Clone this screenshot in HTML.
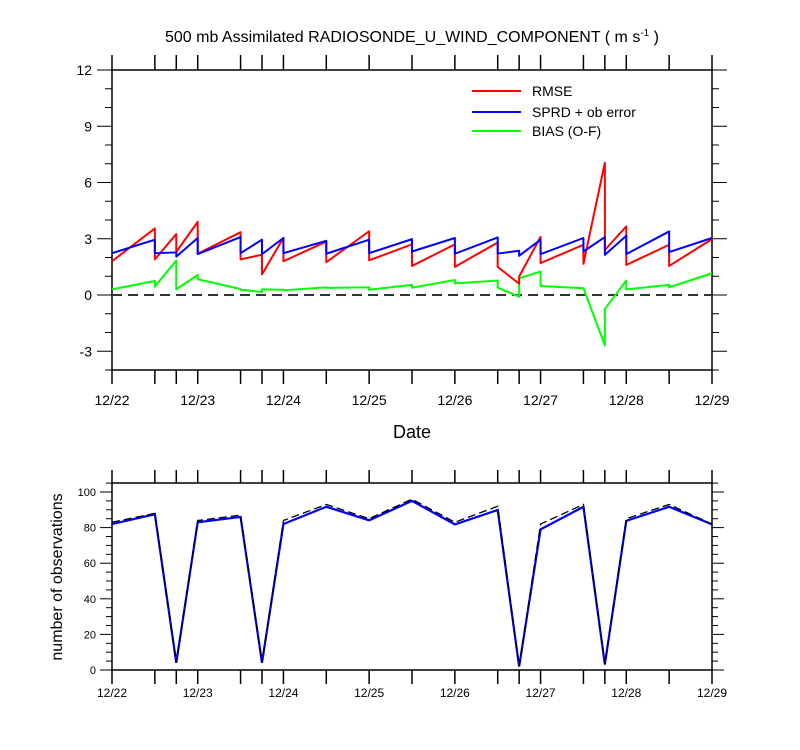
<!DOCTYPE html>
<html><head><meta charset="utf-8"><style>
body{margin:0;background:#fff;}
svg{display:block;font-family:"Liberation Sans",sans-serif;}
</style></head><body>
<svg id="chart" width="800" height="750" xmlns="http://www.w3.org/2000/svg">
<text x="412" y="42" font-size="16" text-anchor="middle">500 mb Assimilated RADIOSONDE_U_WIND_COMPONENT ( m s<tspan font-size="10" dy="-6">-1</tspan><tspan dy="6"> )</tspan></text>
<g id="topPanel"></g>
<g id="botPanel"></g>
<text x="412" y="438" font-size="18" text-anchor="middle">Date</text>
<text transform="translate(62,577) rotate(-90)" font-size="16" text-anchor="middle">number of observations</text>
<g>
<line x1="472" y1="91" x2="521" y2="91" stroke="#ff0000" stroke-width="2"/>
<text x="532" y="96" font-size="14">RMSE</text>
<line x1="472" y1="112" x2="521" y2="112" stroke="#0000ff" stroke-width="2"/>
<text x="532" y="117" font-size="14">SPRD + ob error</text>
<line x1="472" y1="131" x2="521" y2="131" stroke="#00ff00" stroke-width="2"/>
<text x="532" y="136" font-size="14">BIAS (O-F)</text>
</g>
</svg>
<script>
const times=[0,0.5,0.75,1,1.5,1.75,2,2.5,3,3.5,4,4.5,4.75,5,5.5,5.75,6,6.5,7];
const dateLabels=["12/22","12/23","12/24","12/25","12/26","12/27","12/28","12/29"];
const rmseStart=[1.8,1.9,2.3,2.2,1.9,1.1,1.8,1.75,1.85,1.55,1.5,1.5,0.98,1.7,1.66,2.4,1.6,1.55];
const rmseEnd=[3.55,3.25,3.9,3.35,2.15,3.05,2.85,3.4,2.7,2.7,2.8,0.6,3.1,2.68,7.05,3.66,2.68,2.98];
const sprdStart=[2.23,2.23,2.05,2.18,2.23,2.18,2.23,2.2,2.23,2.32,2.2,2.21,2.09,2.18,2.32,2.14,2.18,2.29];
const sprdEnd=[2.95,2.27,3.04,3.09,2.95,3.04,2.89,2.95,2.98,3.04,3.07,2.36,2.95,3.04,3.09,3.16,3.39,3.04];
const biasStart=[0.3,0.45,0.3,0.84,0.28,0.3,0.25,0.38,0.28,0.39,0.62,0.39,0.89,0.48,0.36,-0.75,0.3,0.41];
const biasEnd=[0.75,1.84,1.07,0.32,0.16,0.28,0.41,0.41,0.54,0.8,0.77,-0.09,1.25,0.36,-2.68,0.77,0.54,1.16];
const obsUsed=[82.0,87.5,4.1,83.0,86.0,4.1,82.0,91.7,84.1,95.0,81.8,89.9,1.9,79.0,91.7,3.2,83.8,91.7,81.8];
const obsTotal=[83,88,4,84,87,4,84,93,85,96,83,92,2,82,93,3,85,93,82];
const topTicks=[-3,0,3,6,9,12];
const botTicks=[0,20,40,60,80,100];

const NS="http://www.w3.org/2000/svg";
const X0=112,X1=712;
const xs=t=>X0+(X1-X0)*t/7;
const yTop=v=>295-(v)*(300/16);
const yBot=v=>670-v*1.78;
function mk(parent,tag,attrs){const e=document.createElementNS(NS,tag);for(const k in attrs)e.setAttribute(k,attrs[k]);parent.appendChild(e);return e;}

const topG=document.getElementById('topPanel'),botG=document.getElementById('botPanel');
let r=mk(topG,'rect',{x:X0,y:70,width:600,height:300,fill:'none',stroke:'#000','stroke-width':1.5});


times.forEach(t=>{
  let a=mk(topG,'line',{x1:xs(t),x2:xs(t),y1:370,y2:384,stroke:'#000','stroke-width':1.5});
  
  
  let b=mk(topG,'line',{x1:xs(t),x2:xs(t),y1:70,y2:55,stroke:'#000','stroke-width':1.5});
  
  
  let c=mk(botG,'line',{x1:xs(t),x2:xs(t),y1:670,y2:684,stroke:'#000','stroke-width':1.5});
  
  
  let d=mk(botG,'line',{x1:xs(t),x2:xs(t),y1:483,y2:470,stroke:'#000','stroke-width':1.5});
  
  
});
dateLabels.forEach((s,i)=>{
  let a=mk(topG,'text',{x:xs(i),y:405,'font-size':14,'text-anchor':'middle'});a.textContent=s;
  
  
  let b=mk(botG,'text',{x:xs(i),y:697,'font-size':12,'text-anchor':'middle'});b.textContent=s;
  
  
});
for(let v=-4;v<=12;v++){
  const major=topTicks.includes(v);
  const L=major?15:7;
  let a=mk(topG,'line',{x1:X0-L,x2:X0,y1:yTop(v),y2:yTop(v),stroke:'#000','stroke-width':1});
  
  
  let b=mk(topG,'line',{x1:X1,x2:X1+L,y1:yTop(v),y2:yTop(v),stroke:'#000','stroke-width':1});
  
  
}
topTicks.forEach(v=>{
  let a=mk(topG,'text',{x:X0-20,y:yTop(v)+5,'font-size':14,'text-anchor':'end'});a.textContent=v;
  
  
});
let zl=mk(topG,'line',{x1:X0,x2:X1,y1:yTop(0),y2:yTop(0),stroke:'#333','stroke-width':2,'stroke-dasharray':'10,6'});


function saw(s,e,col,name){
  let pts=[];
  for(let i=0;i<s.length;i++){pts.push(xs(times[i])+','+yTop(s[i]));pts.push(xs(times[i+1])+','+yTop(e[i]));}
  let p=mk(topG,'polyline',{points:pts.join(' '),fill:'none',stroke:col,'stroke-width':2,'stroke-linejoin':'round'});
  
  
}
saw(biasStart,biasEnd,'#00ff00','bias-line');
saw(rmseStart,rmseEnd,'#ff0000','rmse-line');
saw(sprdStart,sprdEnd,'#0000ff','sprd-line');

let r2=mk(botG,'rect',{x:X0,y:483,width:600,height:187,fill:'none',stroke:'#000','stroke-width':1.5});


for(let v=0;v<=105;v+=5){
  const L=v%20===0?12:6;
  let a=mk(botG,'line',{x1:X0-L,x2:X0,y1:yBot(v),y2:yBot(v),stroke:'#000','stroke-width':1});
  
  
  let b=mk(botG,'line',{x1:X1,x2:X1+L,y1:yBot(v),y2:yBot(v),stroke:'#000','stroke-width':1});
  
  
}
botTicks.forEach(v=>{
  let a=mk(botG,'text',{x:X0-16,y:yBot(v)+4,'font-size':11,'text-anchor':'end'});a.textContent=v;
  
  
});
let pu=mk(botG,'polyline',{points:times.map((t,i)=>xs(t)+','+yBot(obsUsed[i])).join(' '),fill:'none',stroke:'#0000ff','stroke-width':2.2});


let pt=mk(botG,'polyline',{points:times.map((t,i)=>xs(t)+','+yBot(obsTotal[i])).join(' '),fill:'none',stroke:'#000','stroke-width':1.3,'stroke-dasharray':'8,4'});


</script>
</body></html>
